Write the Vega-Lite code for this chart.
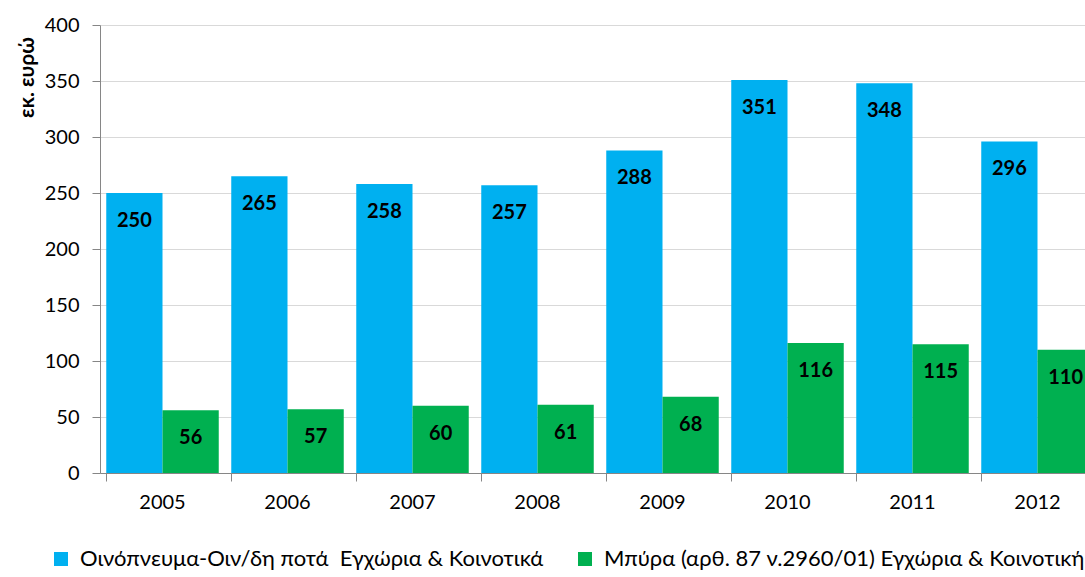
{
  "$schema": "https://vega.github.io/schema/vega-lite/v6.json",
  "autosize": "none",
  "width": 985,
  "height": 448,
  "padding": {"left": 100, "top": 25, "right": 0, "bottom": 104},
  "background": "white",
  "config": {
    "font": "Lato",
    "view": {"stroke": null}
  },
  "data": {
    "values": [
      {"year": "2005", "series": "Οινόπνευμα-Οιν/δη ποτά\u00a0 Εγχώρια & Κοινοτικά", "value": 250},
      {"year": "2006", "series": "Οινόπνευμα-Οιν/δη ποτά\u00a0 Εγχώρια & Κοινοτικά", "value": 265},
      {"year": "2007", "series": "Οινόπνευμα-Οιν/δη ποτά\u00a0 Εγχώρια & Κοινοτικά", "value": 258},
      {"year": "2008", "series": "Οινόπνευμα-Οιν/δη ποτά\u00a0 Εγχώρια & Κοινοτικά", "value": 257},
      {"year": "2009", "series": "Οινόπνευμα-Οιν/δη ποτά\u00a0 Εγχώρια & Κοινοτικά", "value": 288},
      {"year": "2010", "series": "Οινόπνευμα-Οιν/δη ποτά\u00a0 Εγχώρια & Κοινοτικά", "value": 351},
      {"year": "2011", "series": "Οινόπνευμα-Οιν/δη ποτά\u00a0 Εγχώρια & Κοινοτικά", "value": 348},
      {"year": "2012", "series": "Οινόπνευμα-Οιν/δη ποτά\u00a0 Εγχώρια & Κοινοτικά", "value": 296},
      {"year": "2005", "series": "Μπύρα (αρθ. 87 ν.2960/01) Εγχώρια & Κοινοτική", "value": 56},
      {"year": "2006", "series": "Μπύρα (αρθ. 87 ν.2960/01) Εγχώρια & Κοινοτική", "value": 57},
      {"year": "2007", "series": "Μπύρα (αρθ. 87 ν.2960/01) Εγχώρια & Κοινοτική", "value": 60},
      {"year": "2008", "series": "Μπύρα (αρθ. 87 ν.2960/01) Εγχώρια & Κοινοτική", "value": 61},
      {"year": "2009", "series": "Μπύρα (αρθ. 87 ν.2960/01) Εγχώρια & Κοινοτική", "value": 68},
      {"year": "2010", "series": "Μπύρα (αρθ. 87 ν.2960/01) Εγχώρια & Κοινοτική", "value": 116},
      {"year": "2011", "series": "Μπύρα (αρθ. 87 ν.2960/01) Εγχώρια & Κοινοτική", "value": 115},
      {"year": "2012", "series": "Μπύρα (αρθ. 87 ν.2960/01) Εγχώρια & Κοινοτική", "value": 110}
    ]
  },
  "encoding": {
    "x": {
      "field": "year", "type": "nominal",
      "scale": {"paddingInner": 0.1, "paddingOuter": 0.05, "range": [0, 1000]},
      "axis": {
        "title": null, "labelAngle": 0, "labelFontSize": 20, "labelColor": "#000000",
        "domainColor": "#868686", "tickColor": "#868686", "tickSize": 8,
        "bandPosition": 0, "labelPadding": 11, "grid": false
      }
    },
    "xOffset": {
      "field": "series", "type": "nominal",
      "sort": ["Οινόπνευμα-Οιν/δη ποτά\u00a0 Εγχώρια & Κοινοτικά", "Μπύρα (αρθ. 87 ν.2960/01) Εγχώρια & Κοινοτική"],
      "scale": {"paddingInner": 0, "paddingOuter": 0}
    },
    "y": {
      "field": "value", "type": "quantitative",
      "scale": {"domain": [0, 400]},
      "axis": {
        "title": "εκ. ευρώ", "titleFontSize": 21, "titleFontWeight": "bold", "titleColor": "#000000",
        "titleAngle": -90, "titleX": -73, "titleY": 52, "titleAlign": "center", "titleBaseline": "middle",
        "values": [0, 50, 100, 150, 200, 250, 300, 350, 400],
        "labelFontSize": 20, "labelColor": "#000000", "labelPadding": 13,
        "domainColor": "#868686", "tickColor": "#868686", "tickSize": 8,
        "gridColor": "#D9D9D9", "gridWidth": 1
      }
    }
  },
  "layer": [
    {
      "mark": {"type": "bar"},
      "encoding": {
        "color": {
          "field": "series", "type": "nominal",
          "sort": ["Οινόπνευμα-Οιν/δη ποτά\u00a0 Εγχώρια & Κοινοτικά", "Μπύρα (αρθ. 87 ν.2960/01) Εγχώρια & Κοινοτική"],
          "scale": {"range": ["#00B0F0", "#00B050"]},
          "legend": {
            "title": null, "orient": "none", "direction": "horizontal",
            "legendX": -50, "legendY": 523,
            "symbolType": "square", "symbolSize": 196, "symbolStrokeWidth": 0,
            "labelFontSize": 22, "labelColor": "#000000", "labelOffset": 8,
            "columnPadding": 30, "labelLimit": 700
          }
        }
      }
    },
    {
      "mark": {"type": "text", "fontSize": 20, "fontWeight": "bold", "color": "#000000", "baseline": "middle", "dy": 28},
      "encoding": {
        "text": {"field": "value", "type": "quantitative"}
      }
    }
  ]
}
